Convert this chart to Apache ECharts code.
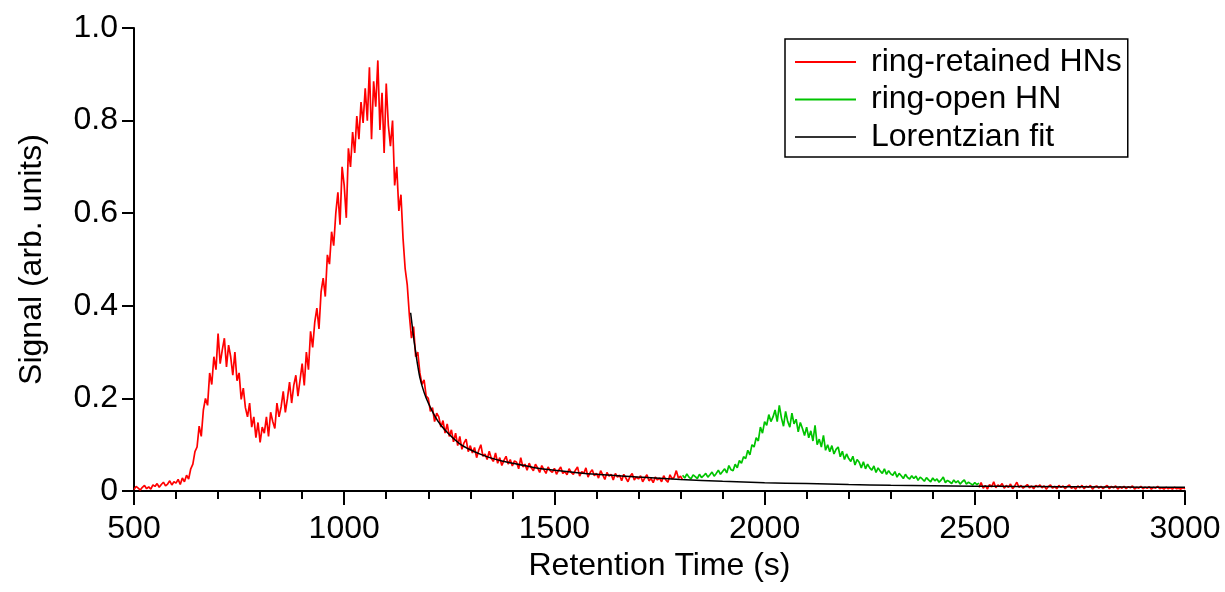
<!DOCTYPE html>
<html>
<head>
<meta charset="utf-8">
<script src="https://cdn.jsdelivr.net/npm/echarts@6/dist/echarts.min.js"></script>
<style>
html,body{margin:0;padding:0;background:#fff;}
#chart{width:1225px;height:592px;}
</style>
</head>
<body>
<div id="chart"></div>
<script>
// Sampling: time (s) of first sample and step between samples
const redStart = 500, redStep = 5;
const redValues = [
0.003,0.010,0.006,0.002,0.008,0.012,0.005,0.009,0.004,0.013,
0.010,0.016,0.008,0.014,0.019,0.011,0.015,0.022,0.013,0.020,
0.017,0.025,0.014,0.028,0.020,0.034,0.026,0.048,0.058,0.085,
0.095,0.140,0.118,0.175,0.200,0.185,0.255,0.230,0.290,0.262,
0.340,0.275,0.305,0.330,0.268,0.315,0.290,0.250,0.300,0.238,
0.255,0.198,0.222,0.180,0.160,0.190,0.138,0.160,0.115,0.148,
0.105,0.138,0.125,0.160,0.118,0.170,0.150,0.135,0.190,0.160,
0.182,0.215,0.170,0.200,0.235,0.190,0.228,0.250,0.205,0.240,
0.275,0.228,0.300,0.262,0.345,0.310,0.365,0.395,0.350,0.430,
0.460,0.420,0.510,0.490,0.560,0.530,0.600,0.645,0.575,0.700,
0.660,0.590,0.740,0.700,0.775,0.730,0.810,0.760,0.840,0.795,
0.870,0.800,0.915,0.760,0.885,0.830,0.930,0.780,0.860,0.730,
0.880,0.790,0.745,0.800,0.660,0.700,0.605,0.640,0.545,0.480,
0.445,0.380,0.330,0.355,0.290,0.300,0.255,0.230,0.240,0.205,
0.200,0.172,0.180,0.150,0.168,0.160,0.138,0.152,0.125,0.145,
0.118,0.132,0.106,0.125,0.098,0.118,0.090,0.104,0.112,0.085,
0.098,0.082,0.094,0.072,0.088,0.100,0.075,0.080,0.068,0.086,
0.070,0.064,0.082,0.060,0.072,0.055,0.066,0.075,0.058,0.068,
0.054,0.065,0.062,0.048,0.072,0.052,0.058,0.045,0.060,0.050,
0.044,0.058,0.050,0.040,0.055,0.046,0.038,0.052,0.044,0.040,
0.049,0.036,0.045,0.052,0.038,0.042,0.035,0.048,0.040,0.036,
0.045,0.052,0.032,0.042,0.038,0.050,0.030,0.040,0.046,0.033,
0.038,0.028,0.044,0.035,0.025,0.040,0.032,0.036,0.024,0.038,
0.030,0.034,0.022,0.036,0.028,0.020,0.032,0.038,0.024,0.030,
0.026,0.033,0.020,0.028,0.035,0.022,0.027,0.018,0.030,0.024,
0.028,0.020,0.033,0.024,0.019,0.035,0.026,0.030,0.044,0.028,
0.032,0.024
];

const greenStart = 1805, greenStep = 5;
const greenValues = [
0.034,0.028,0.037,0.030,0.026,0.035,0.031,0.027,0.036,0.029,
0.033,0.038,0.030,0.035,0.041,0.032,0.038,0.045,0.036,0.042,
0.048,0.039,0.055,0.046,0.044,0.058,0.050,0.066,0.060,0.074,
0.070,0.088,0.078,0.100,0.095,0.115,0.108,0.138,0.125,0.150,
0.142,0.165,0.150,0.160,0.175,0.150,0.185,0.158,0.140,0.172,
0.150,0.138,0.168,0.145,0.155,0.128,0.148,0.135,0.120,0.138,
0.115,0.130,0.108,0.142,0.100,0.112,0.095,0.120,0.088,0.100,
0.085,0.098,0.080,0.090,0.095,0.074,0.086,0.068,0.080,0.070,
0.064,0.075,0.056,0.068,0.062,0.050,0.063,0.048,0.058,0.050,
0.045,0.054,0.040,0.050,0.043,0.038,0.048,0.036,0.044,0.037,
0.034,0.042,0.030,0.038,0.033,0.027,0.036,0.029,0.026,0.033,
0.027,0.032,0.023,0.030,0.026,0.021,0.029,0.024,0.020,0.028,
0.022,0.026,0.019,0.024,0.030,0.018,0.023,0.020,0.016,0.024,
0.018,0.022,0.015,0.020,0.024,0.015,0.019,0.016,0.013,0.018,
0.014,0.017
];

const redTailStart = 2510, redTailStep = 5;
const redTailValues = [
0.008,0.018,0.006,0.012,0.004,0.014,0.009,0.020,0.007,0.013,
0.010,0.016,0.006,0.012,0.008,0.015,0.005,0.011,0.019,0.008,
0.012,0.006,0.010,0.014,0.007,0.011,0.005,0.012,0.009,0.013,
0.007,0.011,0.004,0.010,0.013,0.006,0.010,0.005,0.012,0.008,
0.011,0.005,0.010,0.013,0.006,0.009,0.004,0.011,0.007,0.012,
0.005,0.010,0.008,0.012,0.004,0.009,0.011,0.006,0.010,0.005,
0.009,0.012,0.005,0.010,0.007,0.011,0.004,0.009,0.006,0.010,
0.005,0.009,0.007,0.011,0.004,0.008,0.006,0.010,0.005,0.008,
0.006,0.009,0.004,0.008,0.006,0.010,0.005,0.007,0.004,0.008,
0.005,0.007,0.004,0.008,0.005,0.006,0.004,0.007,0.005
];

const fitTimes = [1158,1162,1166,1170,1175,1180,1190,1200,1215,1230,1250,1275,1300,1325,1350,1375,1400,1450,1500,1600,1700,1800,1900,2000,2100,2200,2300,2400,2500,2600,2700,2800,2900,3000];
const fitValues = [0.385,0.355,0.325,0.300,0.270,0.245,0.213,0.190,0.163,0.142,0.122,0.102,0.089,0.079,0.071,0.065,0.060,0.051,0.045,0.036,0.030,0.025,0.021,0.018,0.016,0.014,0.0125,0.0115,0.0105,0.0098,0.0092,0.0087,0.0083,0.008];

const seriesNames = ['ring-retained HNs', 'ring-open HN', 'Lorentzian fit'];
const xTicks = [500, 1000, 1500, 2000, 2500, 3000];
const yTicks = [0, 0.2, 0.4, 0.6, 0.8, 1.0];

function pairs(start, step, vals) { return vals.map((v, i) => [start + i * step, v]); }

const FONT = "'Liberation Sans', Arial, sans-serif";
const FS = 32;
const chart = echarts.init(document.getElementById('chart'));
chart.setOption({
  animation: false,
  backgroundColor: '#fff',
  grid: { left: 134, right: 40, top: 28, bottom: 101, containLabel: false },
  legend: {
    data: seriesNames,
    orient: 'vertical',
    left: 785, top: 39,
    backgroundColor: '#fff',
    borderColor: '#000', borderWidth: 1.5, borderRadius: 0,
    padding: [7, 6, 4, 10],
    itemWidth: 61, itemHeight: 2, itemGap: 5.5,
    icon: 'rect',
    textStyle: { fontFamily: FONT, fontSize: FS, color: '#000', lineHeight: 32, padding: [0, 0, 0, 10] }
  },
  xAxis: {
    type: 'value', min: xTicks[0], max: xTicks[xTicks.length - 1], interval: 500,
    name: 'Retention Time (s)', nameLocation: 'middle', nameGap: 58,
    nameTextStyle: { fontFamily: FONT, fontSize: FS, color: '#000' },
    axisLine: { show: true, onZero: false, lineStyle: { color: '#000', width: 2 } },
    axisTick: { show: true, inside: false, length: 14, lineStyle: { color: '#000', width: 2 } },
    minorTick: { show: true, splitNumber: 5, length: 8, lineStyle: { color: '#000', width: 2 } },
    axisLabel: { fontFamily: FONT, fontSize: FS, color: '#000', margin: 22, formatter: v => String(v) },
    splitLine: { show: false }
  },
  yAxis: {
    type: 'value', min: 0, max: 1, interval: 0.2,
    name: 'Signal (arb. units)', nameLocation: 'middle', nameGap: 86, nameRotate: 90,
    nameTextStyle: { fontFamily: FONT, fontSize: FS, color: '#000' },
    axisLine: { show: true, onZero: false, lineStyle: { color: '#000', width: 2 } },
    axisTick: { show: true, inside: false, length: 12, lineStyle: { color: '#000', width: 2 } },
    axisLabel: { fontFamily: FONT, fontSize: FS, color: '#000', margin: 16,
      formatter: v => (v === 0 ? '0' : v.toFixed(1)) },
    splitLine: { show: false }
  },
  series: [
    { name: seriesNames[0], type: 'line', data: pairs(redStart, redStep, redValues),
      showSymbol: false, symbol: 'none', lineStyle: { color: '#ff0000', width: 1.7 }, itemStyle: { color: '#ff0000' }, z: 2 },
    { name: seriesNames[0], type: 'line', data: pairs(redTailStart, redTailStep, redTailValues),
      showSymbol: false, symbol: 'none', lineStyle: { color: '#ff0000', width: 1.7 }, itemStyle: { color: '#ff0000' }, z: 2 },
    { name: seriesNames[1], type: 'line', data: pairs(greenStart, greenStep, greenValues),
      showSymbol: false, symbol: 'none', lineStyle: { color: '#00c400', width: 1.7 }, itemStyle: { color: '#00c400' }, z: 3 },
    { name: seriesNames[2], type: 'line', data: fitTimes.map((t, i) => [t, fitValues[i]]),
      showSymbol: false, symbol: 'none', smooth: 0.3, lineStyle: { color: '#000', width: 1.5 }, itemStyle: { color: '#333' }, z: 4 }
  ]
});
</script>
</body>
</html>
